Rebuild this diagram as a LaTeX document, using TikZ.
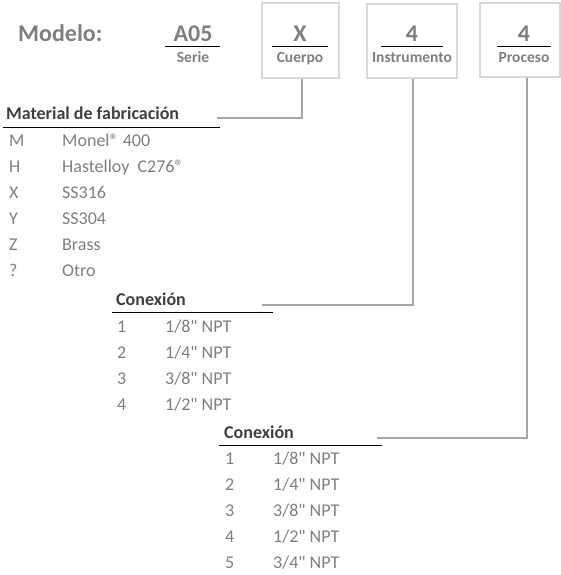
\documentclass[tikz,border=0pt]{standalone}
\usepackage{fontspec}
\setmainfont{Carlito}[Ligatures=TeXOff]
\usetikzlibrary{positioning}
\definecolor{txtgray}{HTML}{7F7F7F}
\definecolor{headgray}{HTML}{404040}
\definecolor{boxgray}{HTML}{D9D9D9}
\definecolor{leadgray}{HTML}{A6A6A6}

\begin{document}
\begin{tikzpicture}[x=1pt, y=-1pt, inner sep=0pt,
  model/.style={font=\bfseries\fontsize{24}{26}\selectfont, text=txtgray, anchor=base},
  tag/.style={font=\bfseries\fontsize{15.5}{17}\selectfont, text=txtgray, anchor=base},
  field/.style={rectangle, draw=boxgray, line width=1.5pt},
  head/.style={font=\bfseries\fontsize{18}{20}\selectfont, text=headgray, anchor=base west},
  item/.style={font=\fontsize{18}{20}\selectfont, text=txtgray, anchor=base west},
  lead/.style={draw=leadgray, line width=2pt},
  rule/.style={draw=black, line width=1pt}]
\useasboundingbox (0,0) rectangle (561,575);

% model code
\node (cuerpobox) [field, minimum width=77pt, minimum height=75pt] at (300.5,40.5) {};
\node (instbox) [field, minimum width=90pt, minimum height=74pt] at (412,41) {};
\node (procbox) [field, minimum width=80pt, minimum height=74pt] at (520,40) {};

\node (modelo) [model, anchor=base west] at (18,42) {Modelo:};
\node (serie) [model] at (193,42) {A05};
\node (cuerpo) [model] at (300,42) {X};
\node (inst) [model] at (412,42) {4};
\node (proc) [model] at (524,42) {4};
\draw [rule] (165,47) -- (220,47);
\draw [rule] (272,47) -- (328,47);
\draw [rule] (381,47) -- (443,47);
\draw [rule] (497,47) -- (551,47);
\node (serietag) [tag] at (193,63) {Serie};
\node (cuerpotag) [tag] at (300,63) {Cuerpo};
\node (insttag) [tag] at (412,63) {Instrumento};
\node (proctag) [tag] at (524,63) {Proceso};

% material
\node (mathead) [head] at (6,119.5) {Material de fabricación};
\draw [rule] (3,127) -- (220,127);
\node (matM) [item] at (9,146.5) {M};
\node (matMtxt) [item] at (62,146.5) {Monel® 400};
\node (matH) [item] at (9,172.5) {H};
\node (matHtxt) [item] at (62,172.5) {Hastelloy\ \ C276®};
\node (matX) [item] at (9,198.5) {X};
\node (matXtxt) [item] at (62,198.5) {SS316};
\node (matY) [item] at (9,224.5) {Y};
\node (matYtxt) [item] at (62,224.5) {SS304};
\node (matZ) [item] at (9,250.5) {Z};
\node (matZtxt) [item] at (62,250.5) {Brass};
\node (matO) [item] at (9,276.5) {?};
\node (matOtxt) [item] at (62,276.5) {Otro};

% conexion instrumento
\node (insthead) [head] at (116,305) {Conexión};
\draw [rule] (112,312) -- (273,312);
\node (inst1) [item] at (117,332.5) {1};
\node (inst1txt) [item] at (165,332.5) {1/8" NPT};
\node (inst2) [item] at (117,358.5) {2};
\node (inst2txt) [item] at (165,358.5) {1/4" NPT};
\node (inst3) [item] at (117,384.5) {3};
\node (inst3txt) [item] at (165,384.5) {3/8" NPT};
\node (inst4) [item] at (117,410.5) {4};
\node (inst4txt) [item] at (165,410.5) {1/2" NPT};

% conexion proceso
\node (prochead) [head] at (224,438.5) {Conexión};
\draw [rule] (219,445) -- (382,445);
\node (proc1) [item] at (225,464.5) {1};
\node (proc1txt) [item] at (273,464.5) {1/8" NPT};
\node (proc2) [item] at (225,490.5) {2};
\node (proc2txt) [item] at (273,490.5) {1/4" NPT};
\node (proc3) [item] at (225,516.5) {3};
\node (proc3txt) [item] at (273,516.5) {3/8" NPT};
\node (proc4) [item] at (225,542.5) {4};
\node (proc4txt) [item] at (273,542.5) {1/2" NPT};
\node (proc5) [item] at (225,568.5) {5};
\node (proc5txt) [item] at (273,568.5) {3/4" NPT};

% leaders
\coordinate (matend) at (217,118);
\coordinate (instend) at (262,305);
\coordinate (procend) at (377,438);
\draw [lead] ([xshift=1.5pt]cuerpobox.south) |- (matend);
\draw [lead] ([xshift=1pt]instbox.south) |- (instend);
\draw [lead] ([xshift=7pt]procbox.south) |- (procend);
\end{tikzpicture}
\end{document}
